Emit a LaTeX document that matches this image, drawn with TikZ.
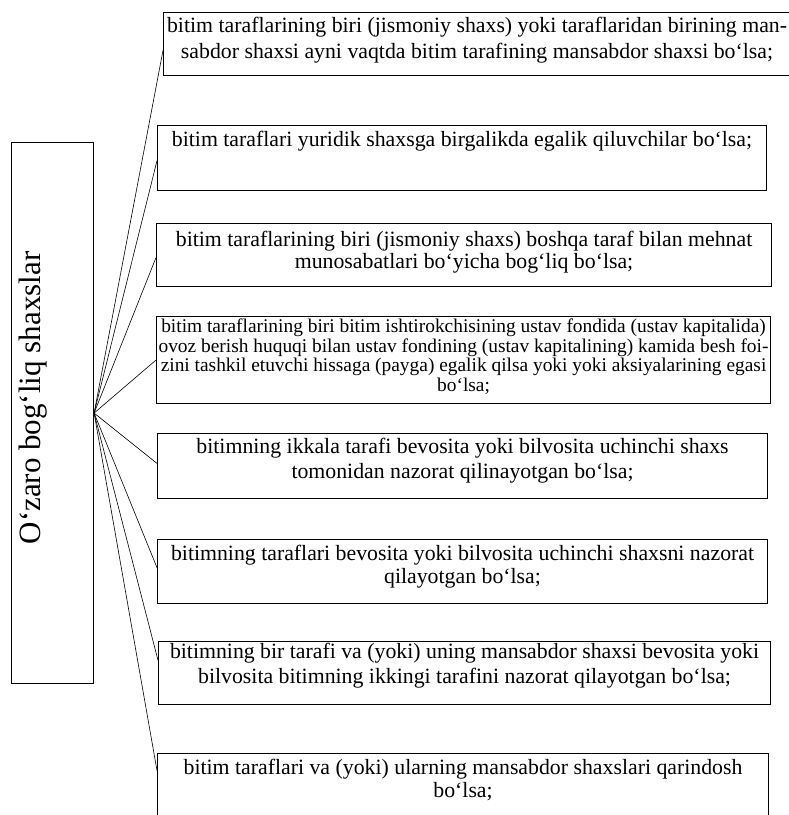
\documentclass[tikz,border=0pt]{standalone}
\usepackage{fontspec}
\setmainfont{Liberation Serif}
\usetikzlibrary{calc}
\tikzset{
  rbox/.style={draw, line width=1.1pt, inner xsep=2pt, inner ysep=0pt, anchor=north west,
    font=\fontsize{21.8}{24}\selectfont},
  smalltext/.style={font=\fontsize{19.4}{19.5}\selectfont},
  mainbox/.style={draw, line width=1.1pt, inner sep=0pt, anchor=north west},
  titletext/.style={rotate=90, font=\fontsize{31}{36}\selectfont},
  link/.style={line width=0.6pt},
}
\newcommand{\rtext}[4]{\parbox[t][#1][t]{#2}{\centering\rule{0pt}{#3}#4}}
\begin{document}
\begin{tikzpicture}[x=1pt,y=-1pt]
\useasboundingbox (0,0) rectangle (789,815);
\node[mainbox, minimum width=82pt, minimum height=541pt] (main) at (11,142) {};
\node[titletext] (title) at (33,398) {O‘zaro bog‘liq shaxslar};

\node[rbox] (b1) at (163,12) {\rtext{63pt}{623pt}{20pt}{bitim taraflarining biri (jismoniy shaxs) yoki taraflaridan birining man-\\[2pt] sabdor shaxsi ayni vaqtda bitim tarafining mansabdor shaxsi bo‘lsa;}};
\node[rbox] (b2) at (157,125) {\rtext{65pt}{605pt}{21pt}{bitim taraflari yuridik shaxsga birgalikda egalik qiluvchilar bo‘lsa;}};
\node[rbox] (b3) at (156,223) {\rtext{63pt}{611pt}{23pt}{bitim taraflarining biri (jismoniy shaxs) boshqa taraf bilan mehnat\\[-2pt] munosabatlari bo‘yicha bog‘liq bo‘lsa;}};
\node[rbox, smalltext] (b4) at (156,316) {\rtext{87pt}{610pt}{16pt}{bitim taraflarining biri bitim ishtirokchisining ustav fondida (ustav kapitalida)\\ ovoz berish huquqi bilan ustav fondining (ustav kapitalining) kamida besh foi-\\ zini tashkil etuvchi hissaga (payga) egalik qilsa yoki yoki aksiyalarining egasi\\ bo‘lsa;}};
\node[rbox] (b5) at (157,433) {\rtext{65pt}{606pt}{20pt}{bitimning ikkala tarafi bevosita yoki bilvosita uchinchi shaxs\\[1pt] tomonidan nazorat qilinayotgan bo‘lsa;}};
\node[rbox] (b6) at (157,539) {\rtext{64pt}{606pt}{21pt}{bitimning taraflari bevosita yoki bilvosita uchinchi shaxsni nazorat\\[-1pt] qilayotgan bo‘lsa;}};
\node[rbox] (b7) at (158,641) {\rtext{63pt}{608pt}{17pt}{bitimning bir tarafi va (yoki) uning mansabdor shaxsi bevosita yoki\\[1pt] bilvosita bitimning ikkingi tarafini nazorat qilayotgan bo‘lsa;}};
\node[rbox] (b8) at (157,753) {\rtext{69pt}{607pt}{21pt}{bitim taraflari va (yoki) ularning mansabdor shaxslari qarindosh\\[-1pt] bo‘lsa;}};

\draw[link] (main.east) -- ($(b1.north west)!0.6!(b1.south west)$);
\draw[link] (main.east) -- ($(b2.north west)!0.54!(b2.south west)$);
\draw[link] (main.east) -- ($(b3.north west)!0.54!(b3.south west)$);
\draw[link] (main.east) -- ($(b4.north west)!0.5!(b4.south west)$);
\draw[link] (main.east) -- ($(b5.north west)!0.46!(b5.south west)$);
\draw[link] (main.east) -- ($(b6.north west)!0.44!(b6.south west)$);
\draw[link] (main.east) -- ($(b7.north west)!0.3!(b7.south west)$);
\draw[link] (main.east) -- ($(b8.north west)!0.25!(b8.south west)$);
\end{tikzpicture}
\end{document}
